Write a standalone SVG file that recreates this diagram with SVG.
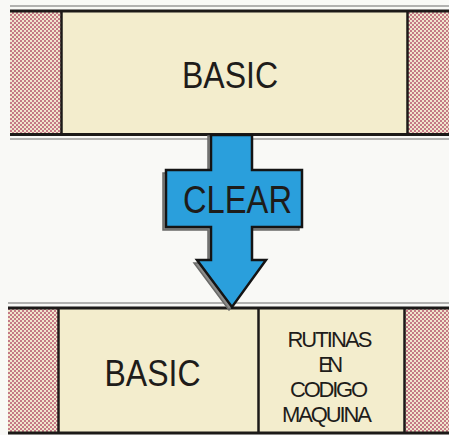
<svg xmlns="http://www.w3.org/2000/svg" width="449" height="435" viewBox="0 0 449 435">
<defs>
<pattern id="hatch" width="4" height="4" patternUnits="userSpaceOnUse">
<rect width="4" height="4" fill="#f1e6cc"/>
<circle cx="1" cy="1" r="0.95" fill="#b04a68"/>
<circle cx="3" cy="3" r="0.95" fill="#b04a68"/>
</pattern>
</defs>
<style>
.cream{fill:#f3edcd;}
.hatch{fill:url(#hatch);}
.edge{stroke:#1c1a18;stroke-width:3;fill:none;}
.grey{stroke:#9a9a98;stroke-width:1.5;fill:none;}
.div{stroke:#1c1a18;stroke-width:2.5;}
.lbl{font-family:"Liberation Sans",Arial,sans-serif;fill:#1e1c1a;text-anchor:middle;}
</style>
<rect width="449" height="435" fill="#f9f9f6"/>
<g id="top-band">
<rect class="hatch" x="10" y="12" width="51" height="122"/>
<rect class="cream" x="61" y="12" width="346" height="122"/>
<rect class="hatch" x="407" y="12" width="42" height="122"/>
<line class="grey" x1="10" y1="6" x2="449" y2="6"/>
<line class="edge" x1="10" y1="11" x2="449" y2="11"/>
<line class="edge" x1="10" y1="134.5" x2="449" y2="134.5"/>
<line class="grey" x1="10" y1="139" x2="449" y2="139"/>
<line class="div" x1="61.5" y1="11" x2="61.5" y2="135"/>
<line class="div" x1="407.5" y1="11" x2="407.5" y2="135"/>
<text class="lbl" x="230" y="88" font-size="36" textLength="96" lengthAdjust="spacingAndGlyphs">BASIC</text>
</g>
<g id="bottom-band">
<rect class="hatch" x="8" y="309" width="50" height="123"/>
<rect class="cream" x="58" y="309" width="346" height="123"/>
<rect class="hatch" x="405" y="309" width="44" height="123"/>
<line class="grey" x1="8" y1="303" x2="449" y2="303"/>
<line class="edge" x1="8" y1="308" x2="449" y2="308"/>
<line class="edge" x1="8" y1="433" x2="449" y2="433"/>
<line class="div" x1="58.5" y1="308" x2="58.5" y2="434"/>
<line class="div" x1="258.5" y1="308" x2="258.5" y2="434"/>
<line class="div" x1="404.5" y1="308" x2="404.5" y2="434"/>
<text class="lbl" x="152.5" y="386" font-size="37" textLength="96" lengthAdjust="spacingAndGlyphs">BASIC</text>
<text class="lbl" font-size="22" lengthAdjust="spacingAndGlyphs">
<tspan x="332" y="347" textLength="85">RUTINAS</tspan>
<tspan x="331" y="372" textLength="25">EN</tspan>
<tspan x="331" y="397" textLength="78">CODIGO</tspan>
<tspan x="327" y="422" textLength="90">MAQUINA</tspan>
</text>
</g>
<g id="connectors">
<g id="clear-arrow">
<polygon points="208,136 249,136 249,173 299,173 299,230 249,230 249,263 263,263 229,310 194,263 208,263 208,230 163,230 163,173 208,173" fill="#8c8c8a" stroke="#6a6a68" stroke-width="1.5" stroke-linejoin="miter"/>
<polygon points="211,135 252,135 252,170 302,170 302,227 252,227 252,260 266,260 232,307 197,260 211,260 211,227 166,227 166,170 211,170" fill="#2a9fdc" stroke="#141414" stroke-width="2.5" stroke-linejoin="miter"/>
<text class="lbl" x="237.5" y="213" font-size="39" textLength="109" lengthAdjust="spacingAndGlyphs">CLEAR</text>
</g>
</g>
</svg>
